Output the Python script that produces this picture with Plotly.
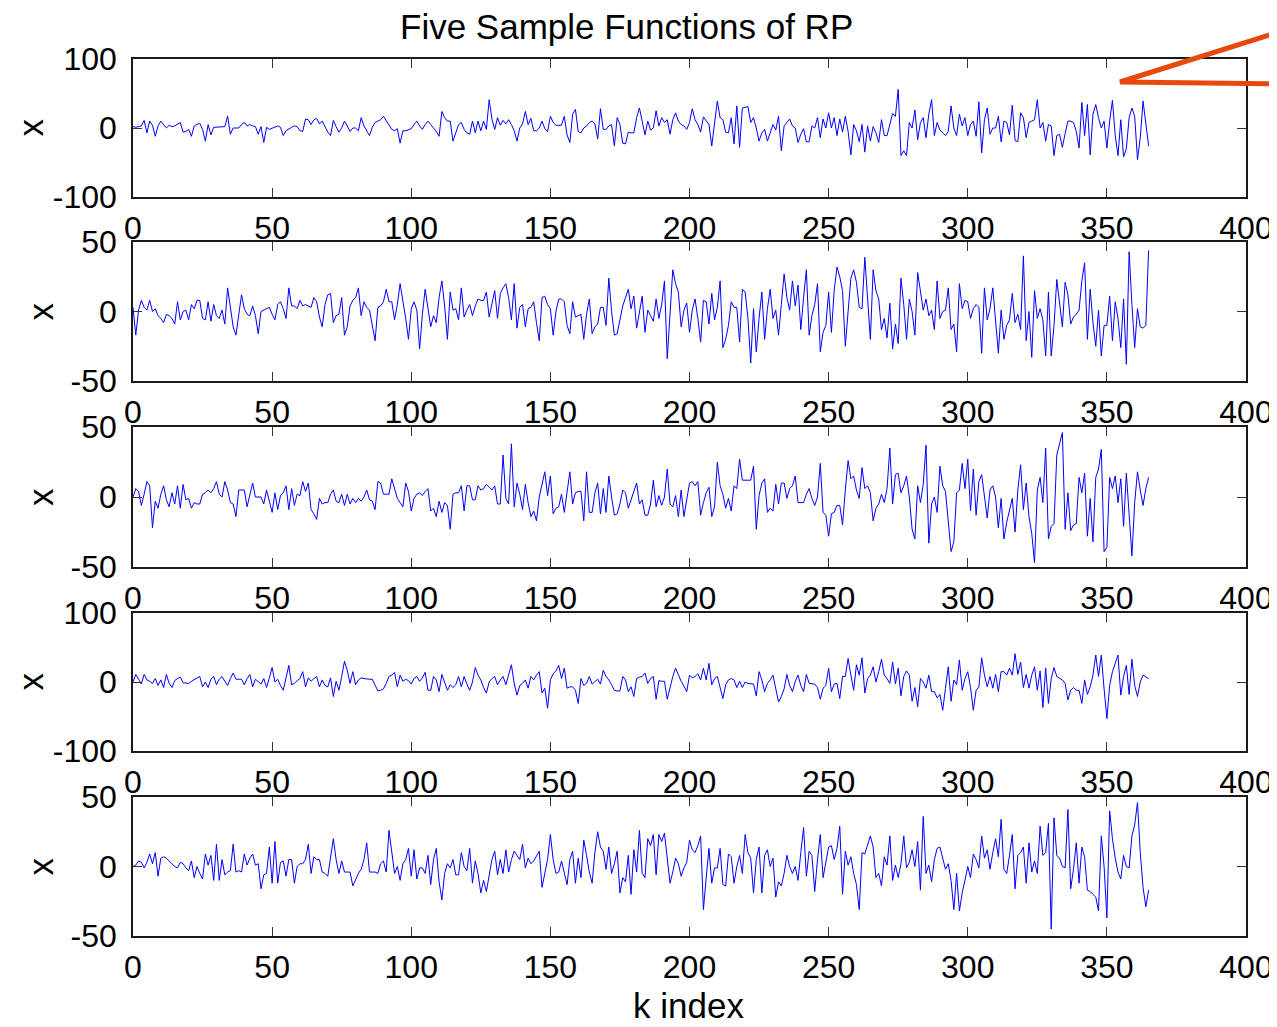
import plotly.graph_objects as go

# ---------------- data ----------------
s1 = [2, 1, 2, 3, 11, -7, 10, 4, -12, 3,
      10, 5, 0, 4, 2, 3, 5, 8, -6, -5,
      -2, -12, 3, 5, 7, -2, -19, 5, -10, 1,
      1, 1, 1, 2, 17, -9, 0, 0, 0, 5,
      8, 3, 5, 3, 2, -9, 2, -21, 1, -2,
      0, 2, 3, 1, -11, -4, -1, 1, 3, 2,
      -4, -5, 13, 12, 5, 12, 14, 6, 10, 2,
      -6, -11, 11, 2, -6, 0, 10, 3, -5, 0,
      0, -4, 15, 3, -5, -11, 1, 8, 10, 12,
      17, 10, 3, -2, -4, -1, -22, -4, -4, -2,
      -1, 5, 10, 3, -2, 5, 10, 5, 0, -5,
      -12, 24, 15, 10, 10, -19, -7, 5, 8, -2,
      -7, -9, 10, -7, 10, -4, 10, -2, 41, 13,
      -2, 15, 4, 11, 6, 12, 5, -4, -19, 0,
      6, 24, 5, 14, -4, -4, 0, 10, -1, -5,
      17, 8, 4, 4, 4, 17, -10, -21, 20, 27,
      -5, -7, 0, 3, 8, 10, 6, -16, 28, -2,
      -2, 3, 5, -26, 15, 5, -22, -23, -6, -7,
      -7, 15, 29, 10, -10, 10, -3, 0, 25, 3,
      15, 8, 12, -9, 12, 22, 10, 5, 3, -2,
      8, 28, 12, 5, -6, 16, 10, 5, -26, 8,
      39, 15, 12, -6, -7, 15, -23, 32, -28, 29,
      30, 31, 8, 15, 0, -19, -7, -2, -19, -7,
      5, -3, 17, -33, 3, 8, 13, 3, 0, -21,
      -9, -1, -20, -20, 3, 0, 15, -14, 13, 0,
      22, 0, 15, -11, 13, -6, 17, -5, -39, 5,
      -4, -20, 5, -35, 3, -19, 2, -7, -21, 12,
      -11, -11, 5, 21, 17, 56, -40, -33, -40, 8,
      0, 26, -17, 8, 15, -14, 20, 41, -11, 8,
      -3, -7, -11, -5, 32, 0, -11, 20, 3, 15,
      -11, 5, 10, -12, 38, -36, 12, 29, -9, 0,
      0, 17, -20, 10, 8, -10, 33, -18, -20, 22,
      15, -14, 8, 10, 12, 41, 0, 8, -19, 5,
      3, -40, -11, -9, -28, -8, 10, 10, 8, -5,
      -29, 37, -11, 34, -39, 20, 34, 15, 0, 10,
      -29, 10, 40, -11, -40, 12, -42, -30, 15, 29,
      17, -46, -14, 39, 10, -26]

s2 = [3, -17, 1, 8, 3, 1, 8, 0, 2, -3,
      -5, -8, -2, -3, -5, -9, 7, -6, 0, 1,
      -6, 5, 2, 8, 8, -5, -6, 7, -7, 5,
      -3, -5, 1, -9, 17, 1, -11, -17, -2, 12,
      2, -2, -3, 4, -3, -16, 0, 1, 2, 3,
      -2, -6, 5, 7, 2, -5, 17, 4, 4, 2,
      8, 4, 5, 4, 3, 10, 7, -4, -11, 5,
      12, 13, -8, -3, -2, 10, -17, -11, 4, 8,
      10, 17, -3, 7, 3, 1, -10, -21, 3, 4,
      7, 16, 7, 7, -6, 5, 20, 9, -5, -20,
      2, 7, 1, -27, -2, 16, 2, -11, -3, -8,
      10, 22, 4, -20, 14, 1, 2, -6, 17, -4,
      1, 5, -3, 4, 9, 8, 8, 14, -4, 5,
      15, -5, 13, 17, 20, 10, -6, 20, -12, 3,
      5, -11, 2, 3, 7, -8, -21, 10, 11, 5,
      2, -17, 0, 9, 9, 7, -10, -16, 7, -4,
      -3, -2, -20, -2, 9, -16, -11, -9, 3, 3,
      -10, 24, 0, -17, -16, -5, 4, 10, 16, 2,
      11, -12, 1, 11, -15, 1, -3, -7, 9, -5,
      5, 22, -34, -5, 30, 20, 14, -11, 1, 6,
      -15, 1, 9, -5, -22, 8, 7, -9, 13, -6,
      3, 22, -26, -20, -10, 7, 3, 3, -22, 16,
      14, -5, -37, 2, -29, -5, 14, -20, 2, 16,
      -5, 1, -17, 5, 27, 10, 1, 22, 4, 19,
      -13, 10, 30, -17, -3, 5, 20, -29, -15, -10,
      14, -15, 15, 32, 25, 15, -25, 0, 24, 30,
      21, 3, 2, 39, 10, -20, 30, 15, 9, -13,
      -5, -19, 6, -27, -9, -23, 24, 5, -20, 9,
      0, -17, 28, 15, 1, 9, -3, 1, -13, 22,
      -5, 0, 1, 17, -13, -9, -29, 20, 2, 8,
      7, -5, 2, 5, 3, -30, 17, -6, 2, 17,
      -5, -30, 1, -20, -10, -6, 13, -8, -2, -13,
      40, -21, 0, -33, 15, -5, 2, -6, -32, 14,
      -32, -10, 23, 5, -11, 21, 12, -9, -4, -2,
      1, 22, 35, -20, 16, -8, -25, 1, -32, -10,
      -10, 11, -21, 7, -5, -26, 9, -38, 43, 5,
      -26, 2, -11, -12, -10, 44]

s3 = [0, 6, 4, -6, 2, 11, 8, -22, -3, -8,
      2, 8, -2, -7, 3, -5, 8, -8, 9, -2,
      -1, -8, -4, -5, -5, 2, 3, 5, 3, 6,
      11, 2, 0, 11, 5, -4, -5, -14, 5, 5,
      5, -7, 2, 10, 0, 0, 0, -5, 5, -3,
      -11, 3, -9, 1, 3, 8, -9, 6, -6, 2,
      1, 11, 4, 10, -9, -12, -16, -1, -5, -4,
      -4, 2, 5, -3, -4, 2, -6, 2, -5, -1,
      -4, -1, -3, 0, 5, -2, -3, -9, 11, 10,
      2, 2, 2, 13, 6, -1, -4, -7, 10, 4,
      -10, -1, 2, 3, 1, 4, 6, -10, -8, -14,
      -3, -11, -4, -6, -23, 2, 3, 3, 8, -10,
      8, 8, -2, -2, 8, 5, 6, 9, 7, 5,
      8, -5, -5, 30, -1, -5, 38, -7, 10, 2,
      -9, 9, -4, -14, -10, -17, 0, 10, 18, 1,
      15, -12, -8, -7, 2, -11, 5, 18, -5, 3,
      4, 4, -17, 18, -11, -11, 3, 10, -12, 6,
      -11, 15, 0, -13, -12, -5, 5, 3, -8, -2,
      4, 10, -5, -2, -13, -13, -5, 12, -7, 1,
      -6, 0, 20, -5, -7, 1, -14, 5, -14, -1,
      10, 11, 8, 11, -13, -4, 3, 7, -14, -7,
      25, 8, 2, -8, -1, -10, 8, 6, 27, 12,
      12, 12, 12, 22, -23, 1, 10, 13, -11, -8,
      -10, 9, -5, 10, 10, -1, 6, 8, 15, -4,
      -4, -4, 2, 6, -1, -6, 0, 24, -11, -13,
      -28, -12, -11, -6, -6, -20, 5, 26, 13, 15,
      5, -1, 21, 6, 8, 3, -17, -8, -5, 2,
      -4, 6, 35, -5, 16, 17, 3, 8, 15, 0,
      -23, -30, 8, -4, 9, 37, -33, -5, 0, -11,
      22, 8, 4, -15, -39, -32, 3, 5, 24, 6,
      27, -10, 20, -13, 11, 16, 2, -15, 5, 8,
      0, -22, -1, -30, -18, -10, -1, -25, 5, 23,
      -9, 10, -14, -26, -47, 5, 14, -4, 35, -30,
      -21, -19, 30, 38, 46, -23, 3, -24, -20, -19,
      14, 3, 17, -28, -1, -32, 14, 20, 34, -39,
      -36, 14, 6, 15, -4, 13, -21, 17, -10, -42,
      -4, 18, 5, -6, 6, 14]

s4 = [0, 11, 4, -3, 11, 3, 1, -2, 5, -5,
      3, -8, 11, -2, -8, 2, 5, 7, -1, -1,
      -2, 1, 3, 5, 8, -7, 0, -8, 4, 8,
      -4, 4, 8, 1, -5, 5, 13, 4, 4, 4,
      -4, 5, 11, -7, 4, 0, -3, 5, -8, 6,
      21, 0, 4, -5, -12, 6, 24, -4, -2, 2,
      5, 15, -7, 6, 1, 5, 8, -7, 3, -5,
      -7, 6, -21, 1, -12, 8, 30, 17, -2, 15,
      -4, 3, 6, 5, 4, 4, 4, -5, -13, -12,
      -10, -2, 8, 10, 14, -7, 10, 1, 4, 2,
      -3, 5, 8, 1, 6, 14, -12, -12, 8, 3,
      -14, 11, -2, -12, -4, -8, -4, 8, -7, 8,
      -3, -12, 0, 21, 10, 3, -8, -16, 0, 5,
      8, -4, 3, 8, -4, 10, 25, -2, -19, -5,
      -2, 3, -9, 8, 3, 10, 15, -16, -9, -38,
      3, 12, 16, 24, 5, 20, -9, -7, -7, -12,
      -31, 5, -5, -2, 8, -3, 0, 4, -3, 17,
      8, 3, -4, -12, -13, -13, 8, 3, -14, -7,
      -21, 5, 7, 8, 13, -2, 5, 8, -25, 2,
      1, 1, -25, -8, 8, 20, 10, 1, -6, -14,
      10, 6, 8, 12, 3, 20, 3, 27, -4, 5,
      8, -10, -24, -4, 3, 5, 3, -8, 1, -8,
      0, -2, -2, -3, -20, 15, 3, -14, -2, 3,
      10, -12, -29, -21, -10, 11, -5, -14, 1, 10,
      -5, -14, 11, -2, -2, -3, -8, -25, -9, -5,
      20, -14, -3, -2, -24, 8, 8, 34, 10, -12,
      25, 10, 35, -16, 5, 10, 22, 0, 15, 33,
      10, 5, -2, 29, -3, 20, -20, 8, 16, 10,
      -28, -8, -36, 5, 0, -9, 10, -14, -14, -23,
      -18, -41, -9, 22, -28, 3, -4, 32, -12, 5,
      15, -8, -41, -12, -7, 35, 10, -7, 8, -9,
      11, -14, 15, 15, 10, 20, 10, 41, 11, 29,
      -8, 11, -9, 10, 22, -12, 16, -37, 20, -31,
      5, 21, 8, 5, 3, -2, -26, -12, -8, -12,
      -12, -31, 3, -18, -7, 10, 39, 8, 39, -10,
      -53, -5, 15, 27, 39, -19, 8, 24, -18, 33,
      -5, -21, 0, 10, 8, 5]

s5 = [0, 1, 4, 3, -1, 3, 9, 2, 10, -7,
      6, 7, 6, 4, 2, 0, -1, 3, 2, -1,
      -3, 4, -8, 0, -5, -9, 9, 1, 8, -10,
      16, -10, 5, -6, -4, -3, 16, -4, -3, -4,
      9, 1, 6, 9, 1, 2, -16, -6, -5, 14,
      -12, 18, -12, 3, 4, -7, 5, 5, -12, 0,
      2, 2, 5, 16, -5, 7, 5, 5, -4, -5,
      -7, 5, 20, 5, -5, 4, -4, -4, -4, -14,
      -9, -5, -2, 5, 17, -4, -4, -4, -5, 2,
      4, -4, 26, 10, -5, 0, -10, 2, 5, 13,
      -7, 12, -9, -1, -1, -5, 8, -13, 5, 13,
      -11, -24, -5, 2, -1, 5, -6, -6, 10, 0,
      -3, 13, -12, 4, -5, -19, -10, -18, -5, 5,
      11, -6, 5, -5, 12, -4, 5, 11, 8, 5,
      16, -1, 6, 2, 4, 8, 11, -15, -5, 5,
      23, 5, -5, -4, 4, -4, -13, 5, 11, -12,
      6, -8, 19, 8, -4, -12, 10, 25, 14, 11,
      -2, 14, -5, 2, 11, -19, -8, -11, 8, -20,
      12, -4, 26, -5, -8, 20, 15, 23, -6, 23,
      18, 24, 4, -12, -4, 6, 2, -7, -1, 3,
      19, 12, 10, 15, 22, -31, -8, 13, -12, -1,
      -1, 13, -13, -14, 9, 7, -12, 0, 8, -5,
      23, 10, 6, -19, 5, 14, -19, 8, 12, 0,
      6, -22, -11, -14, -5, 8, 0, -5, 0, -10,
      10, 28, -7, 11, 8, -18, 5, 23, -8, 2,
      14, 15, 5, 13, 29, -20, 11, 1, 7, -5,
      -13, -31, 10, 9, 15, 22, 14, -8, -5, -14,
      7, 1, 22, -10, 1, -8, 2, 22, -1, 3,
      12, 0, 18, -17, 36, -5, 1, -11, 5, 13,
      14, 5, -2, 2, -10, -31, -5, -32, -19, -10,
      0, -8, 9, 5, -1, 22, 6, 12, -2, 10,
      20, 7, 34, -2, -5, 8, 23, -16, 8, 10,
      14, -12, 17, -4, 4, -5, 29, 8, 10, 31,
      -45, 35, 8, 6, 0, -1, 41, -16, -2, 17,
      -12, 14, 7, -17, -18, -20, -22, -32, 22, 0,
      -37, 40, 20, 6, -4, -9, 8, 0, -1, 22,
      30, 46, 10, -15, -29, -17]

series = [s1, s2, s3, s4, s5]
y_limits = [100, 50, 50, 100, 50]
x_ticks = [0, 50, 100, 150, 200, 250, 300, 350, 400]
title_text = "Five Sample Functions of RP"
xlabel_text = "k index"
ylabel_text = "x"

# ---------------- layout helpers ----------------
# the page body has an 8px margin, so the figure is drawn 8px in from the corner
OFF = 8
W, H = 1277 - OFF, 1027 - OFF
FONT = "Arial, Liberation Sans, Helvetica, sans-serif"
FS = 32
FS_LABEL = 35


def px_x(p):
    return (p - OFF) / W


def px_y(p):
    return 1 - (p - OFF) / H


x_dom = [px_x(133), px_x(1246)]
y_boxes = [(59, 197), (242, 381), (427, 567), (613, 751), (797, 936)]
ylab_x = [None, 40, 40, None, 40]   # None -> pinned to the left edge

fig = go.Figure()
layout = dict(
    width=W, height=H,
    margin=dict(l=0, r=0, t=0, b=0),
    paper_bgcolor="white", plot_bgcolor="white",
    showlegend=False,
    font=dict(family=FONT, size=FS, color="black"),
)

annotations = []
for i, (s, lim) in enumerate(zip(series, y_limits)):
    n = i + 1
    xa = "x" if n == 1 else f"x{n}"
    ya = "y" if n == 1 else f"y{n}"
    fig.add_trace(go.Scatter(
        x=list(range(len(s))), y=s, mode="lines",
        line=dict(color="#0000FF", width=1),
        xaxis=xa, yaxis=ya, hoverinfo="skip",
    ))
    top, bot = y_boxes[i]
    common = dict(
        showline=True, linecolor="#1a1a1a", linewidth=1.6, mirror="allticks",
        ticks="inside", ticklen=9, tickwidth=1.2, tickcolor="#333333",
        showgrid=False, zeroline=False, automargin=False,
        tickfont=dict(family=FONT, size=FS, color="black"),
    )
    layout["xaxis" if n == 1 else f"xaxis{n}"] = dict(
        domain=x_dom, range=[0, 400], anchor=ya,
        tickvals=x_ticks, ticktext=[str(t) for t in x_ticks],
        ticklabelstandoff=2, **common,
    )
    yt = [-lim, 0, lim]
    layout["yaxis" if n == 1 else f"yaxis{n}"] = dict(
        domain=[px_y(bot), px_y(top)], range=[-lim, lim], anchor=xa,
        tickvals=yt, ticktext=[str(t) for t in yt],
        ticklabelstandoff=8, **common,
    )
    if ylab_x[i] is None:
        ax, xanc = 0, "left"
    else:
        ax, xanc = px_x(ylab_x[i]), "center"
    annotations.append(dict(
        text=ylabel_text, x=ax, y=px_y((top + bot) / 2),
        xref="paper", yref="paper", showarrow=False, textangle=-90,
        xanchor=xanc, yanchor="middle",
        font=dict(family=FONT, size=FS_LABEL, color="black"),
    ))

annotations.append(dict(
    text=title_text, x=px_x(626), y=px_y(27), xref="paper", yref="paper",
    showarrow=False, xanchor="center", yanchor="middle",
    font=dict(family=FONT, size=FS_LABEL, color="black"),
))
annotations.append(dict(
    text=xlabel_text, x=px_x(688), y=0, xref="paper", yref="paper",
    showarrow=False, xanchor="center", yanchor="bottom",
    font=dict(family=FONT, size=FS_LABEL, color="black"),
))
layout["annotations"] = annotations

# orange callout outline in the top-right corner
p0 = (px_x(1282), px_y(31))
p1 = (px_x(1120), px_y(82))
p2 = (px_x(1282), px_y(84))
layout["shapes"] = [dict(
    type="path", xref="paper", yref="paper",
    path=f"M {p0[0]},{p0[1]} L {p1[0]},{p1[1]} L {p2[0]},{p2[1]}",
    line=dict(color="#E8480A", width=5),
)]

fig.update_layout(**layout)
fig.write_html("out.html")
